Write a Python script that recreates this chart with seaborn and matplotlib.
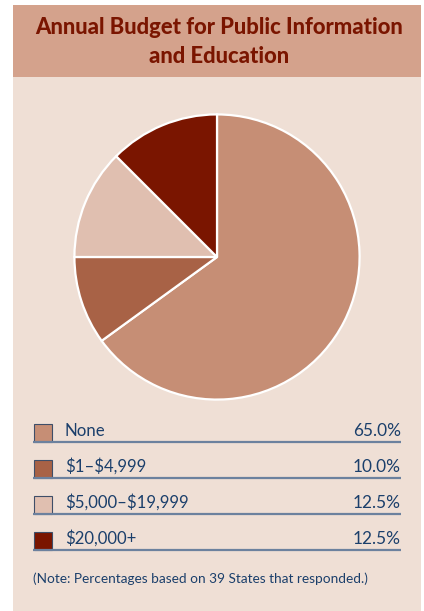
import matplotlib
matplotlib.use("Agg")
import matplotlib.pyplot as plt
from matplotlib.patches import Rectangle
import seaborn as sns

# Survey results: annual budget for public information and education
categories = ["None", "$1\u2013$4,999", "$5,000\u2013$19,999", "$20,000+"]
shares = [65.0, 10.0, 12.5, 12.5]
share_labels = ["65.0%", "10.0%", "12.5%", "12.5%"]
title = "Annual Budget for Public Information\nand Education"
note = "(Note: Percentages based on 39 States that responded.)"

slice_colors = sns.color_palette(["#C68E75", "#A86246", "#E0BFB0", "#7A1500"])

sns.set_theme(style="white")
plt.rcParams["font.family"] = ["Lato", "DejaVu Sans"]

W, H = 424, 611
fig = plt.figure(figsize=(W / 100, H / 100), dpi=100)
fig.patch.set_facecolor("white")

# Full-figure overlay in pixel units (y grows downward)
bg = fig.add_axes([0, 0, 1, 1])
bg.set_xlim(0, W)
bg.set_ylim(H, 0)
bg.axis("off")
bg.add_patch(Rectangle((13, 5), 408, 72, facecolor="#D4A28C", edgecolor="none"))
bg.add_patch(Rectangle((13, 77), 408, 534, facecolor="#EFDFD5", edgecolor="none"))
bg.text(219, 42, title, ha="center", va="center", fontsize=15.8, fontweight="black",
        color="#7A1500", linespacing=1.42)

# Pie chart
cx, cy, r = 217, 257, 144
pie_ax = fig.add_axes([(cx - r) / W, (H - cy - r) / H, 2 * r / W, 2 * r / H])
pie_ax.pie(shares, colors=slice_colors, startangle=90, counterclock=False,
           wedgeprops=dict(edgecolor="white", linewidth=1.6, clip_on=False))
pie_ax.set_xlim(-1.01, 1.01)
pie_ax.set_ylim(-1.01, 1.01)
pie_ax.set_aspect("equal")
pie_ax.axis("off")

# Legend table
text_color = "#1B3F6B"
rule_color = "#6C819E"
row0, step = 442, 36
for i, (cat, lab, col) in enumerate(zip(categories, share_labels, slice_colors)):
    base = row0 + step * i
    bg.plot([33, 401], [base, base], color=rule_color, lw=1.6, solid_capstyle="butt")
    bg.add_patch(Rectangle((33.5, base - 18.5), 18, 18, facecolor=col,
                           edgecolor="#3E4E68", lw=0.8))
    bg.text(65, base - 6.5, cat, ha="left", va="baseline", fontsize=12.1,
            color=text_color, parse_math=False)
    bg.text(401, base - 6.5, lab, ha="right", va="baseline", fontsize=12.4,
            color=text_color, parse_math=False)

bg.text(33, 583, note, ha="left", va="baseline", fontsize=9.8, color=text_color)

fig.savefig("out.png", dpi=100, facecolor=fig.get_facecolor())
